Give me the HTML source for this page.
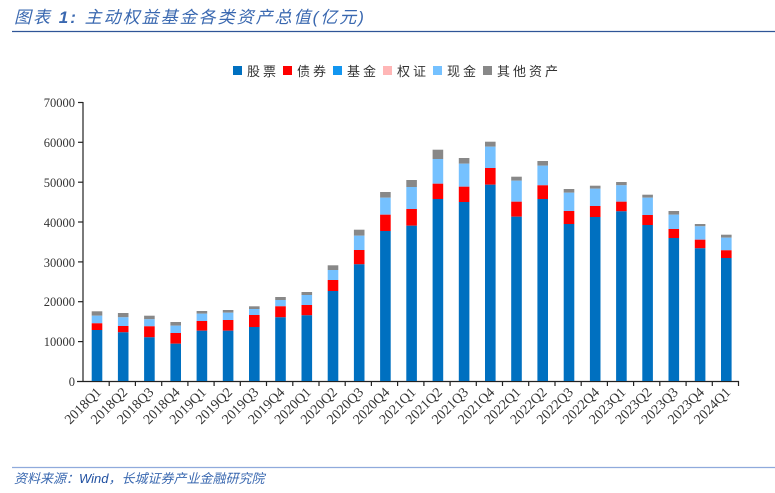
<!DOCTYPE html>
<html><head><meta charset="utf-8"><style>
body{margin:0;background:#fff;}
svg{display:block;}
</style></head><body>
<svg width="775" height="493" viewBox="0 0 775 493" xmlns="http://www.w3.org/2000/svg">
<text x="14" y="23" font-family="Liberation Sans, Noto Sans CJK SC, sans-serif" font-size="17" font-style="italic" letter-spacing="2" fill="#3a68b0">图表 <tspan font-weight="bold">1:</tspan> 主动权益基金各类资产总值(亿元)</text>
<line x1="12" y1="31.5" x2="775" y2="31.5" stroke="#2f5597" stroke-width="1.2"/>
<g font-family="Liberation Sans, Noto Sans CJK SC, sans-serif" font-size="13" letter-spacing="3" fill="#333">
<rect x="233" y="66" width="9" height="9" fill="#0070c0"/><text x="247" y="76">股票</text>
<rect x="283" y="66" width="9" height="9" fill="#ff0000"/><text x="297" y="76">债券</text>
<rect x="333" y="66" width="9" height="9" fill="#1296f0"/><text x="347" y="76">基金</text>
<rect x="383" y="66" width="9" height="9" fill="#ffb6b6"/><text x="397" y="76">权证</text>
<rect x="433" y="66" width="9" height="9" fill="#75c1ff"/><text x="447" y="76">现金</text>
<rect x="483" y="66" width="9" height="9" fill="#888"/><text x="497" y="76">其他资产</text>
</g>
<g font-family="Liberation Serif, serif" font-size="12.5" fill="#333" text-anchor="end">
<text x="75" y="386">0</text><text x="75" y="346">10000</text><text x="75" y="306">20000</text><text x="75" y="267">30000</text><text x="75" y="227">40000</text><text x="75" y="187">50000</text><text x="75" y="147">60000</text><text x="75" y="107">70000</text>
</g>
<g stroke="#222" stroke-width="1.2">
<line x1="83" y1="102" x2="83" y2="382"/>
<line x1="77" y1="381.5" x2="739" y2="381.5"/>
<line x1="78" y1="102.5" x2="83" y2="102.5"/><line x1="78" y1="142.3" x2="83" y2="142.3"/><line x1="78" y1="182.2" x2="83" y2="182.2"/><line x1="78" y1="222" x2="83" y2="222"/><line x1="78" y1="261.9" x2="83" y2="261.9"/><line x1="78" y1="301.7" x2="83" y2="301.7"/><line x1="78" y1="341.6" x2="83" y2="341.6"/>
<line x1="109.2" y1="381" x2="109.2" y2="386"/><line x1="135.4" y1="381" x2="135.4" y2="386"/><line x1="161.7" y1="381" x2="161.7" y2="386"/><line x1="187.9" y1="381" x2="187.9" y2="386"/><line x1="214.1" y1="381" x2="214.1" y2="386"/><line x1="240.3" y1="381" x2="240.3" y2="386"/><line x1="266.5" y1="381" x2="266.5" y2="386"/><line x1="292.8" y1="381" x2="292.8" y2="386"/><line x1="319" y1="381" x2="319" y2="386"/><line x1="345.2" y1="381" x2="345.2" y2="386"/><line x1="371.4" y1="381" x2="371.4" y2="386"/><line x1="397.6" y1="381" x2="397.6" y2="386"/><line x1="423.9" y1="381" x2="423.9" y2="386"/><line x1="450.1" y1="381" x2="450.1" y2="386"/><line x1="476.3" y1="381" x2="476.3" y2="386"/><line x1="502.5" y1="381" x2="502.5" y2="386"/><line x1="528.7" y1="381" x2="528.7" y2="386"/><line x1="555" y1="381" x2="555" y2="386"/><line x1="581.2" y1="381" x2="581.2" y2="386"/><line x1="607.4" y1="381" x2="607.4" y2="386"/><line x1="633.6" y1="381" x2="633.6" y2="386"/><line x1="659.8" y1="381" x2="659.8" y2="386"/><line x1="686.1" y1="381" x2="686.1" y2="386"/><line x1="712.3" y1="381" x2="712.3" y2="386"/><line x1="738.5" y1="381" x2="738.5" y2="386"/>
</g>
<g>
<rect x="91.7" y="311.3" width="10.6" height="4.4" fill="#888"/><rect x="91.7" y="315.7" width="10.6" height="7.6" fill="#75c1ff"/><rect x="91.7" y="323.3" width="10.6" height="6.7" fill="#f00"/><rect x="91.7" y="330" width="10.6" height="51" fill="#0070c0"/>
<rect x="117.9" y="313" width="10.6" height="4.3" fill="#888"/><rect x="117.9" y="317.3" width="10.6" height="8.7" fill="#75c1ff"/><rect x="117.9" y="326" width="10.6" height="6.3" fill="#f00"/><rect x="117.9" y="332.3" width="10.6" height="48.7" fill="#0070c0"/>
<rect x="144.1" y="315.7" width="10.6" height="3.6" fill="#888"/><rect x="144.1" y="319.3" width="10.6" height="7" fill="#75c1ff"/><rect x="144.1" y="326.3" width="10.6" height="11" fill="#f00"/><rect x="144.1" y="337.3" width="10.6" height="43.7" fill="#0070c0"/>
<rect x="170.4" y="322" width="10.6" height="3.7" fill="#888"/><rect x="170.4" y="325.7" width="10.6" height="7.3" fill="#75c1ff"/><rect x="170.4" y="333" width="10.6" height="10.7" fill="#f00"/><rect x="170.4" y="343.7" width="10.6" height="37.3" fill="#0070c0"/>
<rect x="196.6" y="311" width="10.6" height="2.7" fill="#888"/><rect x="196.6" y="313.7" width="10.6" height="7.3" fill="#75c1ff"/><rect x="196.6" y="321" width="10.6" height="9.7" fill="#f00"/><rect x="196.6" y="330.7" width="10.6" height="50.3" fill="#0070c0"/>
<rect x="222.8" y="310" width="10.6" height="2.7" fill="#888"/><rect x="222.8" y="312.7" width="10.6" height="7.3" fill="#75c1ff"/><rect x="222.8" y="320" width="10.6" height="10.7" fill="#f00"/><rect x="222.8" y="330.7" width="10.6" height="50.3" fill="#0070c0"/>
<rect x="249" y="306.3" width="10.6" height="2.7" fill="#888"/><rect x="249" y="309" width="10.6" height="6" fill="#75c1ff"/><rect x="249" y="315" width="10.6" height="12" fill="#f00"/><rect x="249" y="327" width="10.6" height="54" fill="#0070c0"/>
<rect x="275.2" y="297" width="10.6" height="3" fill="#888"/><rect x="275.2" y="300" width="10.6" height="6.3" fill="#75c1ff"/><rect x="275.2" y="306.3" width="10.6" height="11" fill="#f00"/><rect x="275.2" y="317.3" width="10.6" height="63.7" fill="#0070c0"/>
<rect x="301.5" y="292" width="10.6" height="3" fill="#888"/><rect x="301.5" y="295" width="10.6" height="10" fill="#75c1ff"/><rect x="301.5" y="305" width="10.6" height="10.3" fill="#f00"/><rect x="301.5" y="315.3" width="10.6" height="65.7" fill="#0070c0"/>
<rect x="327.7" y="265.3" width="10.6" height="4.7" fill="#888"/><rect x="327.7" y="270" width="10.6" height="10" fill="#75c1ff"/><rect x="327.7" y="280" width="10.6" height="11" fill="#f00"/><rect x="327.7" y="291" width="10.6" height="90" fill="#0070c0"/>
<rect x="353.9" y="229.7" width="10.6" height="6" fill="#888"/><rect x="353.9" y="235.7" width="10.6" height="14.3" fill="#75c1ff"/><rect x="353.9" y="250" width="10.6" height="14.3" fill="#f00"/><rect x="353.9" y="264.3" width="10.6" height="116.7" fill="#0070c0"/>
<rect x="380.1" y="192" width="10.6" height="5.7" fill="#888"/><rect x="380.1" y="197.7" width="10.6" height="17" fill="#75c1ff"/><rect x="380.1" y="214.7" width="10.6" height="16.3" fill="#f00"/><rect x="380.1" y="231" width="10.6" height="150" fill="#0070c0"/>
<rect x="406.3" y="180" width="10.6" height="7" fill="#888"/><rect x="406.3" y="187" width="10.6" height="22" fill="#75c1ff"/><rect x="406.3" y="209" width="10.6" height="16.7" fill="#f00"/><rect x="406.3" y="225.7" width="10.6" height="155.3" fill="#0070c0"/>
<rect x="432.6" y="149.7" width="10.6" height="9.3" fill="#888"/><rect x="432.6" y="159" width="10.6" height="24.7" fill="#75c1ff"/><rect x="432.6" y="183.7" width="10.6" height="15.3" fill="#f00"/><rect x="432.6" y="199" width="10.6" height="182" fill="#0070c0"/>
<rect x="458.8" y="158" width="10.6" height="5.7" fill="#888"/><rect x="458.8" y="163.7" width="10.6" height="23" fill="#75c1ff"/><rect x="458.8" y="186.7" width="10.6" height="15.3" fill="#f00"/><rect x="458.8" y="202" width="10.6" height="179" fill="#0070c0"/>
<rect x="485" y="141.7" width="10.6" height="5" fill="#888"/><rect x="485" y="146.7" width="10.6" height="21.3" fill="#75c1ff"/><rect x="485" y="168" width="10.6" height="16.7" fill="#f00"/><rect x="485" y="184.7" width="10.6" height="196.3" fill="#0070c0"/>
<rect x="511.2" y="176.7" width="10.6" height="4" fill="#888"/><rect x="511.2" y="180.7" width="10.6" height="21" fill="#75c1ff"/><rect x="511.2" y="201.7" width="10.6" height="15" fill="#f00"/><rect x="511.2" y="216.7" width="10.6" height="164.3" fill="#0070c0"/>
<rect x="537.4" y="161" width="10.6" height="4.7" fill="#888"/><rect x="537.4" y="165.7" width="10.6" height="19.6" fill="#75c1ff"/><rect x="537.4" y="185.3" width="10.6" height="13.7" fill="#f00"/><rect x="537.4" y="199" width="10.6" height="182" fill="#0070c0"/>
<rect x="563.7" y="189" width="10.6" height="3.7" fill="#888"/><rect x="563.7" y="192.7" width="10.6" height="18.3" fill="#75c1ff"/><rect x="563.7" y="211" width="10.6" height="13" fill="#f00"/><rect x="563.7" y="224" width="10.6" height="157" fill="#0070c0"/>
<rect x="589.9" y="185.7" width="10.6" height="3" fill="#888"/><rect x="589.9" y="188.7" width="10.6" height="17.3" fill="#75c1ff"/><rect x="589.9" y="206" width="10.6" height="11" fill="#f00"/><rect x="589.9" y="217" width="10.6" height="164" fill="#0070c0"/>
<rect x="616.1" y="182" width="10.6" height="3.3" fill="#888"/><rect x="616.1" y="185.3" width="10.6" height="16.4" fill="#75c1ff"/><rect x="616.1" y="201.7" width="10.6" height="9.6" fill="#f00"/><rect x="616.1" y="211.3" width="10.6" height="169.7" fill="#0070c0"/>
<rect x="642.3" y="194.7" width="10.6" height="3" fill="#888"/><rect x="642.3" y="197.7" width="10.6" height="17.3" fill="#75c1ff"/><rect x="642.3" y="215" width="10.6" height="10" fill="#f00"/><rect x="642.3" y="225" width="10.6" height="156" fill="#0070c0"/>
<rect x="668.5" y="211" width="10.6" height="3.7" fill="#888"/><rect x="668.5" y="214.7" width="10.6" height="14.3" fill="#75c1ff"/><rect x="668.5" y="229" width="10.6" height="9" fill="#f00"/><rect x="668.5" y="238" width="10.6" height="143" fill="#0070c0"/>
<rect x="694.8" y="224" width="10.6" height="2.3" fill="#888"/><rect x="694.8" y="226.3" width="10.6" height="13.4" fill="#75c1ff"/><rect x="694.8" y="239.7" width="10.6" height="8.6" fill="#f00"/><rect x="694.8" y="248.3" width="10.6" height="132.7" fill="#0070c0"/>
<rect x="721" y="234.7" width="10.6" height="3" fill="#888"/><rect x="721" y="237.7" width="10.6" height="12.6" fill="#75c1ff"/><rect x="721" y="250.3" width="10.6" height="7.7" fill="#f00"/><rect x="721" y="258" width="10.6" height="123" fill="#0070c0"/>
</g>
<g font-family="Liberation Serif, serif" font-size="14" fill="#333" text-anchor="end">
<text transform="translate(102,393) rotate(-45)">2018Q1</text>
<text transform="translate(128.2,393) rotate(-45)">2018Q2</text>
<text transform="translate(154.4,393) rotate(-45)">2018Q3</text>
<text transform="translate(180.7,393) rotate(-45)">2018Q4</text>
<text transform="translate(206.9,393) rotate(-45)">2019Q1</text>
<text transform="translate(233.1,393) rotate(-45)">2019Q2</text>
<text transform="translate(259.3,393) rotate(-45)">2019Q3</text>
<text transform="translate(285.5,393) rotate(-45)">2019Q4</text>
<text transform="translate(311.8,393) rotate(-45)">2020Q1</text>
<text transform="translate(338,393) rotate(-45)">2020Q2</text>
<text transform="translate(364.2,393) rotate(-45)">2020Q3</text>
<text transform="translate(390.4,393) rotate(-45)">2020Q4</text>
<text transform="translate(416.6,393) rotate(-45)">2021Q1</text>
<text transform="translate(442.9,393) rotate(-45)">2021Q2</text>
<text transform="translate(469.1,393) rotate(-45)">2021Q3</text>
<text transform="translate(495.3,393) rotate(-45)">2021Q4</text>
<text transform="translate(521.5,393) rotate(-45)">2022Q1</text>
<text transform="translate(547.7,393) rotate(-45)">2022Q2</text>
<text transform="translate(574,393) rotate(-45)">2022Q3</text>
<text transform="translate(600.2,393) rotate(-45)">2022Q4</text>
<text transform="translate(626.4,393) rotate(-45)">2023Q1</text>
<text transform="translate(652.6,393) rotate(-45)">2023Q2</text>
<text transform="translate(678.8,393) rotate(-45)">2023Q3</text>
<text transform="translate(705.1,393) rotate(-45)">2023Q4</text>
<text transform="translate(731.3,393) rotate(-45)">2024Q1</text>
</g>
<line x1="12" y1="467.5" x2="775" y2="467.5" stroke="#8faadc" stroke-width="1.2"/>
<text x="14" y="483" font-family="Liberation Sans, Noto Sans CJK SC, sans-serif" font-size="13" font-style="italic" fill="#3a68b0">资料来源：<tspan fill="#1f4fa0">Wind</tspan>，长城证券产业金融研究院</text>
</svg>
</body></html>
